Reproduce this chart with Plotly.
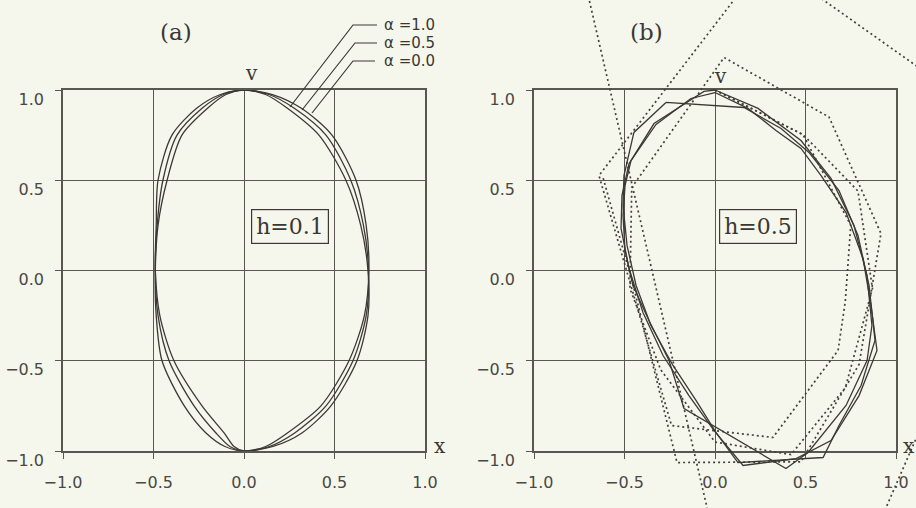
import plotly.graph_objects as go

W, H = 916, 508

# ---- panel (a): h=0.1, closed orbits for three alpha values (clockwise from the top)
a00_x = [0, 0.157, 0.315, 0.486, 0.619, 0.675, 0.69, 0.665, 0.58, 0.425, 0.24, 0.12, 0,
         -0.105, -0.21, -0.33, -0.453, -0.485, -0.49, -0.475, -0.425, -0.343, -0.20, -0.10, 0]
a00_y = [1, 0.975, 0.9, 0.75, 0.5, 0.25, 0, -0.25, -0.5, -0.75, -0.9, -0.975, -1,
         -0.975, -0.9, -0.75, -0.5, -0.25, 0, 0.25, 0.5, 0.75, 0.9, 0.975, 1]
a05_x = [0, 0.138, 0.276, 0.453, 0.59, 0.66, 0.688, 0.675, 0.602, 0.453, 0.28, 0.14, 0,
         -0.078, -0.155, -0.276, -0.414, -0.475, -0.49, -0.48, -0.448, -0.37, -0.23, -0.115, 0]
a05_y = a00_y
a10_x = [0, 0.119, 0.238, 0.414, 0.563, 0.645, 0.685, 0.685, 0.624, 0.48, 0.32, 0.16, 0,
         -0.055, -0.11, -0.232, -0.387, -0.465, -0.49, -0.485, -0.475, -0.398, -0.26, -0.13, 0]
a10_y = a00_y
alpha_labels = ["\u03b1 =1.0", "\u03b1 =0.5", "\u03b1 =0.0"]

# ---- panel (b): h=0.5, stable polygons (solid)
sp1_x = [0.000, 0.238, 0.475, 0.641, 0.768, 0.840, 0.867, 0.840, 0.724, 0.514, 0.392, -0.171, -0.254,
         -0.365, -0.453, -0.497, -0.508, -0.497, -0.464, -0.337, -0.061, 0.000]
sp1_y = [1.000, 0.898, 0.720, 0.510, 0.249, -0.028, -0.305, -0.499, -0.748, -1.008, -1.097, -0.765, -0.499,
         -0.277, -0.083, 0.111, 0.305, 0.471, 0.609, 0.814, 0.992, 1.000]
sp2_x = [-0.271, 0.160, 0.365, 0.519, 0.685, 0.790, 0.851, 0.884, 0.807, 0.685, 0.597, 0.127, 0.006,
         -0.105, -0.232, -0.354, -0.436, -0.486, -0.508, -0.503, -0.448, -0.271]
sp2_y = [0.931, 0.903, 0.787, 0.654, 0.443, 0.194, -0.083, -0.388, -0.637, -0.859, -1.036, -1.064, -0.898,
         -0.720, -0.526, -0.305, -0.083, 0.139, 0.360, 0.526, 0.765, 0.931]
sp3_x = [0.000, 0.182, 0.337, 0.475, 0.586, 0.724, 0.818, 0.862, 0.895, 0.796, 0.641, 0.448, 0.155,
         -0.006, -0.144, -0.287, -0.398, -0.475, -0.519, -0.514, -0.475, -0.326, -0.133, 0.000]
sp3_y = [0.986, 0.898, 0.776, 0.676, 0.526, 0.321, 0.066, -0.194, -0.443, -0.693, -0.942, -1.042, -1.080,
         -0.886, -0.693, -0.471, -0.233, 0.011, 0.233, 0.416, 0.593, 0.809, 0.953, 0.986]

# ---- panel (b): unstable solutions (dotted), spiralling outwards
d1_x = [0, 0.486, 0.75, 0.72, 0.68, 0.32, -0.24, -0.641, 0.279, 1.796, 0.30, -0.95]
d1_y = [1, 0.753, 0.25, -0.17, -0.443, -0.925, -0.859, 0.526, 1.726, 0.648, -2.80, 2.6]
d2_x = [0, 0.49, 0.79, 0.87, 0.72, 0.42, 0.0, -0.3, -0.47, -0.46, 0.05, 0.63, 0.917, 0.796, 0.475,
        -0.21, -0.45, -0.62]
d2_y = [1, 0.75, 0.44, -0.1, -0.65, -1.02, -0.95, -0.55, -0.1, 0.46, 1.18, 0.85, 0.205, -0.52, -1.06,
        -1.064, -0.09, 0.52]

ticks = [-1.0, -0.5, 0.0, 0.5, 1.0]
tick_text = ["\u22121.0", "\u22120.5", "0.0", "0.5", "1.0"]

BG = "#f6f7ec"
INK = "#3c3935"
GRID = "#5a5650"

# frame boxes in pixels (left, right, top, bottom)
box_a = (63, 425, 90, 451)
box_b = (534, 896, 90, 451)


def px_x(p):
    return p / W


def px_y(p):
    return 1 - p / H


fig = go.Figure()

for xs, ys in [(a10_x, a10_y), (a05_x, a05_y), (a00_x, a00_y)]:
    fig.add_trace(go.Scatter(x=xs, y=ys, xaxis="x", yaxis="y", mode="lines",
                             line=dict(color=INK, width=1.3, shape="spline", smoothing=0.8),
                             hoverinfo="skip", showlegend=False))

for xs, ys in [(d1_x, d1_y), (d2_x, d2_y)]:
    fig.add_trace(go.Scatter(x=xs, y=ys, xaxis="x3", yaxis="y3", mode="lines",
                             line=dict(color="#44413d", width=1.7, dash="2px,3px"),
                             hoverinfo="skip", showlegend=False))

for xs, ys in [(sp1_x, sp1_y), (sp2_x, sp2_y), (sp3_x, sp3_y)]:
    fig.add_trace(go.Scatter(x=xs, y=ys, xaxis="x3", yaxis="y3", mode="lines",
                             line=dict(color=INK, width=1.3),
                             hoverinfo="skip", showlegend=False))

axis_style = dict(
    range=[-1, 1], tickvals=ticks, ticktext=tick_text, automargin=False,
    showgrid=True, gridcolor=GRID, gridwidth=1.2, zeroline=False,
    showline=True, linecolor=GRID, linewidth=1.5, mirror=True,
    ticks="outside", ticklen=6, tickwidth=1.2, tickcolor=GRID,
    tickfont=dict(family="DejaVu Sans", size=16, color="#4a4744"),
    fixedrange=True,
)

# extended (invisible) axes for panel (b) so that diverging lines are not clipped at the frame
half_x = (box_b[1] - box_b[0]) / 2
half_y = (box_b[3] - box_b[2]) / 2
x3_range = [-1 - (box_b[0] - W / 2) / half_x, 1 + (W - box_b[1]) / half_x]
y3_range = [-1 - (H - box_b[3]) / half_y, 1 + box_b[2] / half_y]

fig.update_layout(
    width=W, height=H,
    margin=dict(l=0, r=0, t=0, b=0, pad=0, autoexpand=False),
    paper_bgcolor=BG, plot_bgcolor="rgba(0,0,0,0)",
    showlegend=False,
    xaxis=dict(axis_style, domain=[px_x(box_a[0]), px_x(box_a[1])], anchor="y", ticklabelstandoff=10),
    yaxis=dict(axis_style, domain=[px_y(box_a[3]), px_y(box_a[2])], anchor="x", ticklabelstandoff=8,
               ticklabelshift=9),
    xaxis2=dict(axis_style, domain=[px_x(box_b[0]), px_x(box_b[1])], anchor="y2", ticklabelstandoff=10),
    yaxis2=dict(axis_style, domain=[px_y(box_b[3]), px_y(box_b[2])], anchor="x2", ticklabelstandoff=8,
                ticklabelshift=9),
    xaxis3=dict(domain=[0.5, 1.0], range=x3_range, visible=False, fixedrange=True, anchor="y3",
                automargin=False),
    yaxis3=dict(domain=[0.0, 1.0], range=y3_range, visible=False, fixedrange=True, anchor="x3",
                automargin=False),
)

# invisible trace so that the panel (b) frame axes are drawn
fig.add_trace(go.Scatter(x=[None], y=[None], xaxis="x2", yaxis="y2", showlegend=False))

serif = dict(family="DejaVu Serif", color="#3a3733")
notes = [
    ("(a)", 176, 32, 23), ("(b)", 646, 32, 23),
    ("v", 252, 73, 20), ("v", 720, 76, 20),
    ("x", 440, 446, 20), ("x", 909, 446, 20),
]
for text, cx, cy, size in notes:
    fig.add_annotation(x=px_x(cx), y=px_y(cy), xref="paper", yref="paper", text=text,
                       showarrow=False, font=dict(serif, size=size), xanchor="center", yanchor="middle")

for text, cx in [("h=0.1", 290), ("h=0.5", 758)]:
    fig.add_annotation(x=px_x(cx), y=px_y(226), xref="paper", yref="paper", text=text,
                       showarrow=False, font=dict(serif, size=22), bgcolor=BG,
                       bordercolor=INK, borderwidth=1.2, borderpad=4,
                       xanchor="center", yanchor="middle")

# legend labels with leader lines to the curves
leaders = [((377, 25), (353, 25), (290, 107)),
           ((377, 43), (355, 43), (302, 110)),
           ((375, 61), (353, 61), (312, 113))]
for label, (p0, p1, p2) in zip(alpha_labels, leaders):
    fig.add_annotation(x=px_x(382), y=px_y(p0[1]), xref="paper", yref="paper", text=label,
                       showarrow=False, xanchor="left", yanchor="middle",
                       font=dict(family="DejaVu Sans", size=15, color="#3a3733"))
    path = "M {} {} L {} {} L {} {}".format(px_x(p0[0]), px_y(p0[1]), px_x(p1[0]), px_y(p1[1]),
                                           px_x(p2[0]), px_y(p2[1]))
    fig.add_shape(type="path", path=path, xref="paper", yref="paper",
                  line=dict(color=INK, width=1.2))

# the page gets no body margin so the figure fills the window exactly
fig.write_html("out.html", config={"displayModeBar": False},
               post_script="document.body.style.margin='0px';document.body.style.background='%s';" % BG)
